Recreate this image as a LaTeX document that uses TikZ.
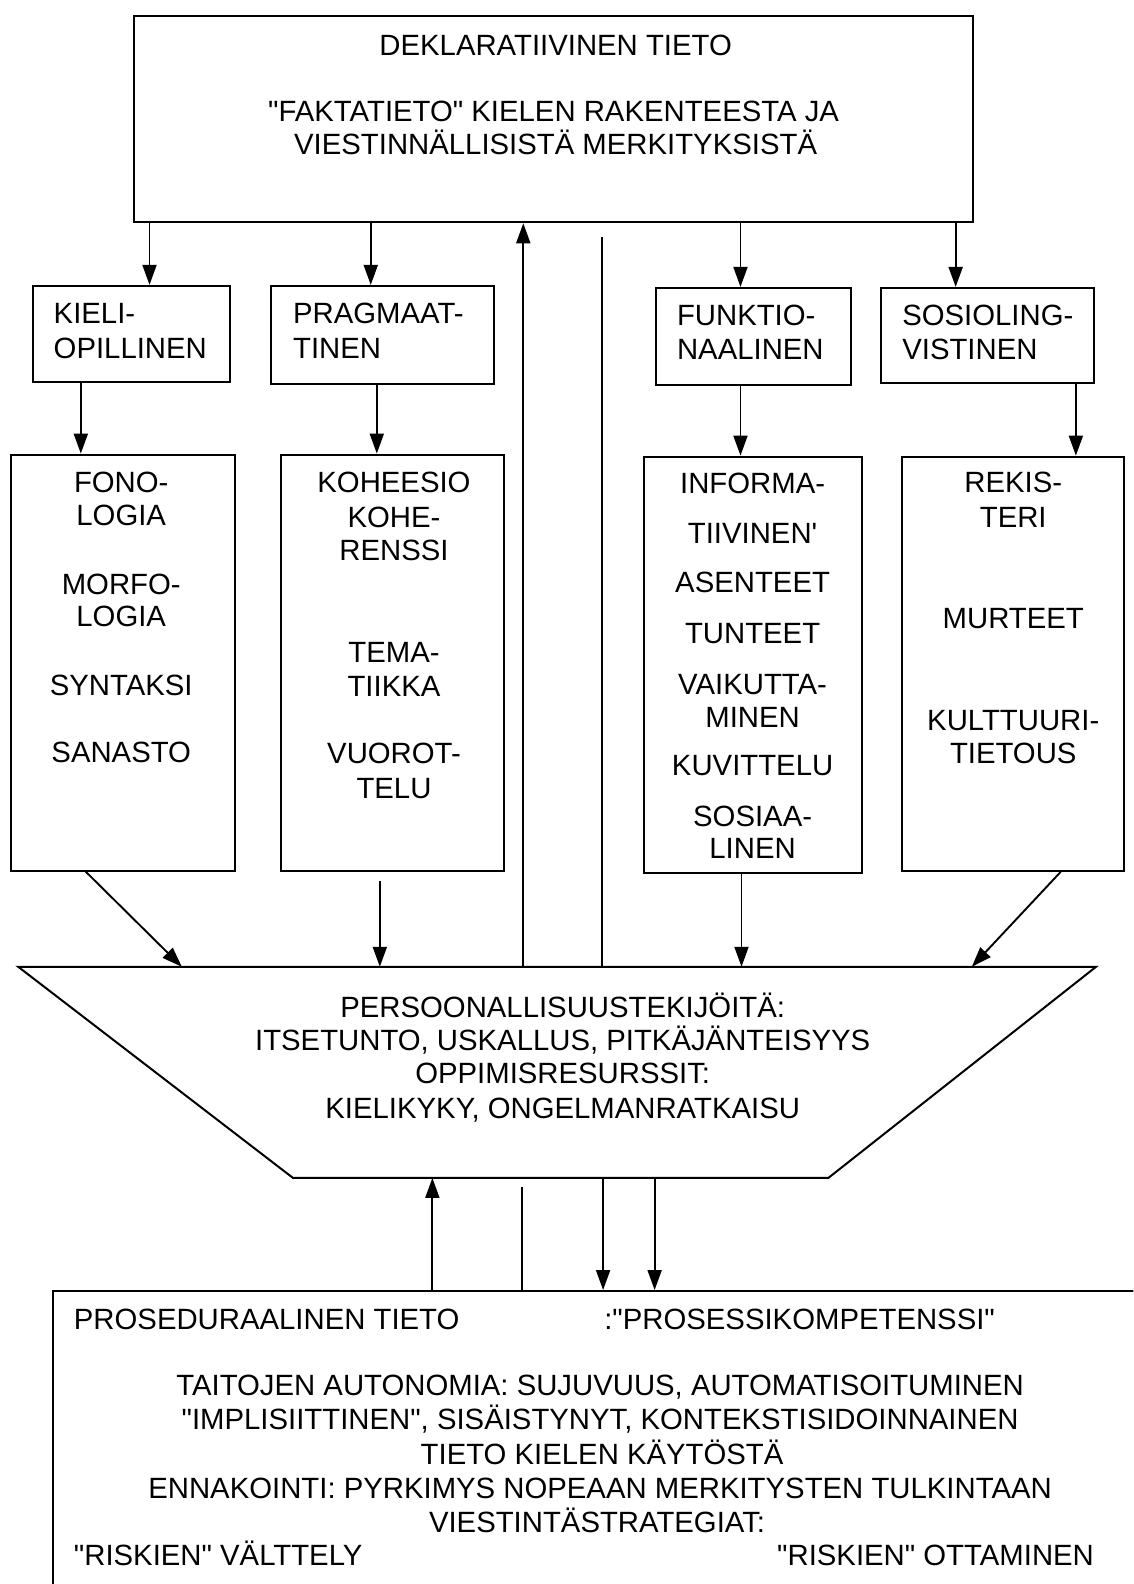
\documentclass[tikz,border=0pt]{standalone}
\usepackage{fontspec}
\setmainfont{Liberation Sans}[Ligatures=TeXOff]
\usetikzlibrary{arrows.meta,fit,calc}

\begin{document}
\begin{tikzpicture}[x=1.0098pt,y=-1.0098pt,
  box/.style={draw,line width=2pt,inner sep=0pt},
  lbl/.style={anchor=base,inner sep=0pt,font=\fontsize{29.3}{33}\selectfont},
  lbll/.style={lbl,anchor=base west},
  lblr/.style={lbl,anchor=base east},
  arr/.style={line width=1.9pt,-{Triangle[length=20pt,width=14pt]}},
  ln/.style={line width=1.9pt}]

\clip (0,0) rectangle (1122,1568);
\fill[white] (0,0) rectangle (1122,1568);

% declarative knowledge
\node[box,fit={(133,16) (963,220)}] (decl) {};
\node[lbl] (declA) at (550,55) {DEKLARATIIVINEN TIETO};
\node[lbl] (declB) at (548,120) {"FAKTATIETO" KIELEN RAKENTEESTA JA};
\node[lbl] (declC) at (550,153) {VIESTINNÄLLISISTÄ MERKITYKSISTÄ};

% four knowledge areas
\node[box,fit={(33,283) (228,378)}] (kieli) {};
\node[lbll] (kieliA) at (53,320) {KIELI-};
\node[lbll] (kieliB) at (53,355) {OPILLINEN};
\node[box,fit={(268,283) (489,380)}] (prag) {};
\node[lbll] (pragA) at (290,320) {PRAGMAAT-};
\node[lbll] (pragB) at (290,355) {TINEN};
\node[box,fit={(649,285) (842,381)}] (funk) {};
\node[lbll] (funkA) at (670,322) {FUNKTIO-};
\node[lbll] (funkB) at (670,356) {NAALINEN};
\node[box,fit={(872,285) (1083,379)}] (sosio) {};
\node[lbll] (sosioA) at (893,322) {SOSIOLING-};
\node[lbll] (sosioB) at (893,356) {VISTINEN};

% contents of each area
\node[box,fit={(11,450) (233,862)}] (fono) {};
\node[lbl] (fono1) at (120,488) {FONO-};
\node[lbl] (fono2) at (120,520) {LOGIA};
\node[lbl] (fono3) at (120,588) {MORFO-};
\node[lbl] (fono4) at (120,620) {LOGIA};
\node[lbl] (fono5) at (120,688) {SYNTAKSI};
\node[lbl] (fono6) at (120,755) {SANASTO};

\node[box,fit={(278,450) (499,862)}] (kohe) {};
\node[lbl] (kohe1) at (390,488) {KOHEESIO};
\node[lbl] (kohe2) at (390,522) {KOHE-};
\node[lbl] (kohe3) at (390,555) {RENSSI};
\node[lbl] (kohe4) at (390,656) {TEMA-};
\node[lbl] (kohe5) at (390,689) {TIIKKA};
\node[lbl] (kohe6) at (390,756) {VUOROT-};
\node[lbl] (kohe7) at (390,790) {TELU};

\node[box,fit={(637,452) (853,864)}] (info) {};
\node[lbl] (info1) at (745,489) {INFORMA-};
\node[lbl] (info2) at (745,538) {TIIVINEN'};
\node[lbl] (info3) at (745,587) {ASENTEET};
\node[lbl] (info4) at (745,637) {TUNTEET};
\node[lbl] (info5) at (745,687) {VAIKUTTA-};
\node[lbl] (info6) at (745,720) {MINEN};
\node[lbl] (info7) at (745,768) {KUVITTELU};
\node[lbl] (info8) at (745,818) {SOSIAA-};
\node[lbl] (info9) at (745,850) {LINEN};

\node[box,fit={(893,452) (1113,862)}] (reki) {};
\node[lbl] (reki1) at (1003,488) {REKIS-};
\node[lbl] (reki2) at (1003,522) {TERI};
\node[lbl] (reki3) at (1003,622) {MURTEET};
\node[lbl] (reki4) at (1003,723) {KULTTUURI-};
\node[lbl] (reki5) at (1003,756) {TIETOUS};

% personal factors funnel
\coordinate (tTL) at (18,957);
\coordinate (tTR) at (1085,957);
\coordinate (tBR) at (820,1166);
\coordinate (tBL) at (290,1166);
\draw[line width=2pt,line join=miter] (tTL) -- (tTR) -- (tBR) -- (tBL) -- cycle;
\node[lbl] (pers1) at (557,1007) {PERSOONALLISUUSTEKIJÖITÄ:};
\node[lbl] (pers2) at (557,1040) {ITSETUNTO, USKALLUS, PITKÄJÄNTEISYYS};
\node[lbl] (pers3) at (557,1073) {OPPIMISRESURSSIT:};
\node[lbl] (pers4) at (557,1107) {KIELIKYKY, ONGELMANRATKAISU};

% procedural knowledge
\node[box,fit={(52,1278) (1150,1600)}] (proc) {};
\node[lbll] (procA) at (73,1316) {PROSEDURAALINEN TIETO};
\node[lbll] (procB) at (598,1316) {:"PROSESSIKOMPETENSSI"};
\node[lbl] (proc1) at (594,1381) {TAITOJEN AUTONOMIA: SUJUVUUS, AUTOMATISOITUMINEN};
\node[lbl] (proc2) at (594,1415) {"IMPLISIITTINEN", SISÄISTYNYT, KONTEKSTISIDOINNAINEN};
\node[lbl] (proc3) at (596,1450) {TIETO KIELEN KÄYTÖSTÄ};
\node[lbl] (proc4) at (594,1483) {ENNAKOINTI: PYRKIMYS NOPEAAN MERKITYSTEN TULKINTAAN};
\node[lbl] (proc5) at (591,1517) {VIESTINTÄSTRATEGIAT:};
\node[lbll] (proc6) at (73,1550) {"RISKIEN" VÄLTTELY};
\node[lblr] (proc7) at (1083,1550) {"RISKIEN" OTTAMINEN};

% connector end points
\coordinate (midtop) at (596,235);
\coordinate (tzUp) at (518,957);
\coordinate (tzLine) at (596,957);
\coordinate (koheOut) at (376,872);
\coordinate (tz1) at (180,957);
\coordinate (tz2) at (376,957);
\coordinate (tz3) at (734,957);
\coordinate (tz4) at (962,957);
\coordinate (tb1) at (428,1166);
\coordinate (tb2) at (597,1166);
\coordinate (tb3) at (648,1166);
\coordinate (lowLine) at (517,1175);

% from declarative box to the areas
\draw[arr] (decl.south -| 148,0) -- (kieli.north -| 148,0);
\draw[arr] (decl.south -| 367,0) -- (prag.north -| 367,0);
\draw[arr] (decl.south -| 733,0) -- (funk.north -| 733,0);
\draw[arr] (decl.south -| 946,0) -- (sosio.north -| 946,0);
\draw[arr] (tzUp) -- (decl.south -| 518,0);
\draw[ln] (midtop) -- (tzLine);

% areas to their contents
\draw[arr] (kieli.south -| 80,0) -- (fono.north -| 80,0);
\draw[arr] (prag.south -| 373,0) -- (kohe.north -| 373,0);
\draw[arr] (funk.south -| 733,0) -- (info.north -| 733,0);
\draw[arr] (sosio.south -| 1065,0) -- (reki.north -| 1065,0);

% contents into the funnel
\draw[arr] (fono.south -| 85,0) -- (tz1);
\draw[arr] (koheOut) -- (tz2);
\draw[arr] (info.south -| 734,0) -- (tz3);
\draw[arr] (reki.south -| 1050,0) -- (tz4);

% funnel and procedural knowledge
\draw[arr] (proc.north -| 428,0) -- (tb1);
\draw[ln] (lowLine) -- (proc.north -| 517,0);
\draw[arr] (tb2) -- (proc.north -| 597,0);
\draw[arr] (tb3) -- (proc.north -| 648,0);
\end{tikzpicture}
\end{document}
